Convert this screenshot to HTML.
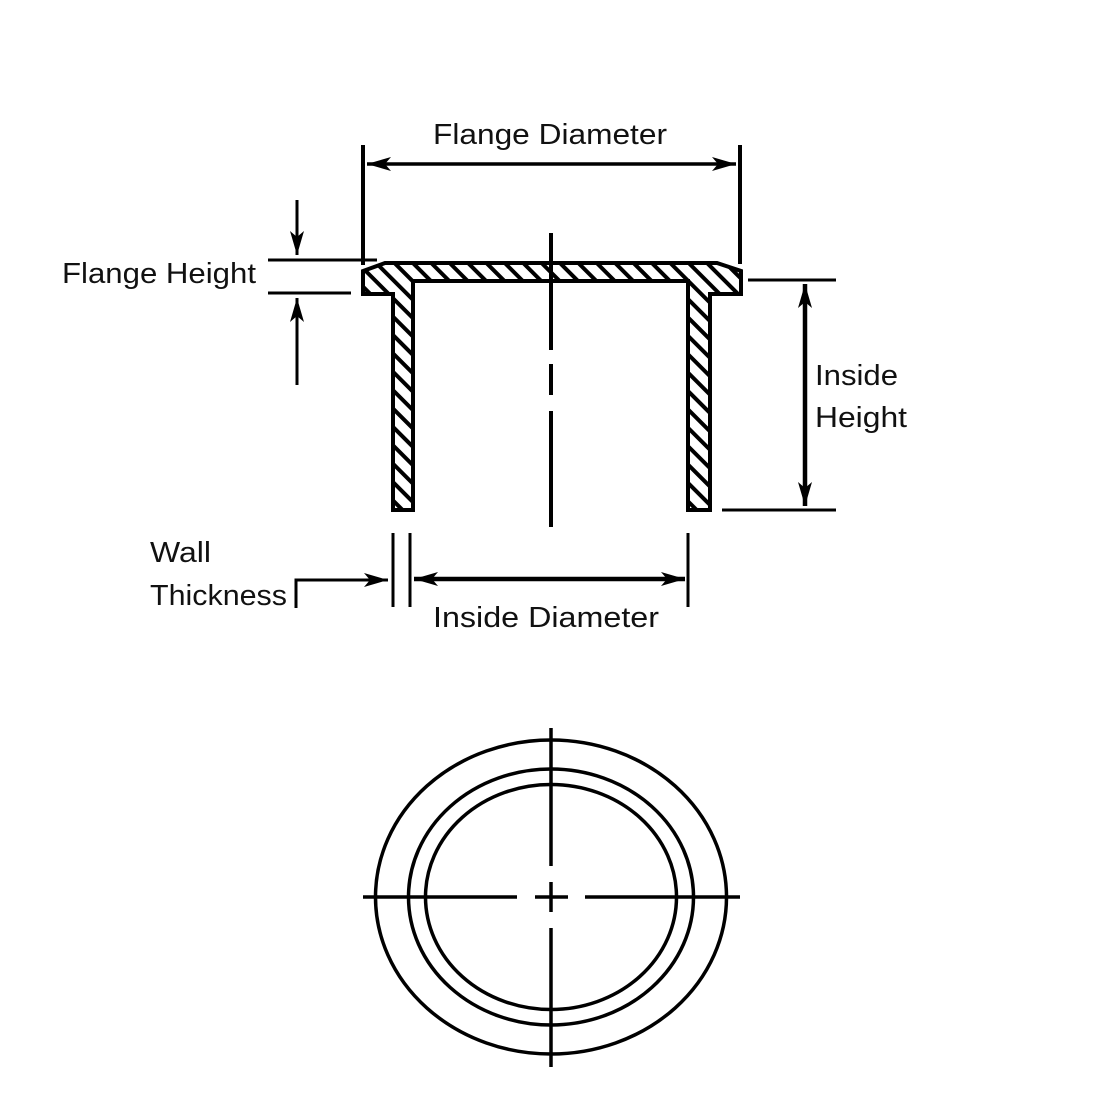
<!DOCTYPE html>
<html><head><style>
html,body{margin:0;padding:0;background:#fff;}
svg{display:block;}
text{font-family:"Liberation Sans",sans-serif;font-size:29px;fill:#111;}
</style></head><body>
<svg width="1100" height="1100" viewBox="0 0 1100 1100" xmlns="http://www.w3.org/2000/svg">
<defs>
<pattern id="h" patternUnits="userSpaceOnUse" width="13" height="13" patternTransform="rotate(-45)">
<rect width="13" height="13" fill="#fff"/>
<rect x="0" y="0" width="4" height="13" fill="#000"/>
</pattern>
<marker id="a" viewBox="0 0 24 14" refX="24" refY="7" markerWidth="24" markerHeight="14" markerUnits="userSpaceOnUse" orient="auto-start-reverse">
<path d="M0,0 L24,7 L0,14 L6,7 Z" fill="#000"/>
</marker>
</defs>
<g stroke="#000" fill="none" stroke-width="4">
<path d="M385,263 L717,263 L741,271 L741,294 L710,294 L710,510 L688,510 L688,281 L413,281 L413,510 L393,510 L393,294 L363,294 L363,271 Z" fill="url(#h)"/>
<path d="M551,233 V350 M551,364 V395 M551,411 V527"/>
<path d="M363,145 V265 M740,145 V264"/>
<path d="M367,164 H736" marker-start="url(#a)" marker-end="url(#a)" stroke-width="3.5"/>
<path d="M268,260 H377 M268,293 H351" stroke-width="3"/>
<path d="M297,200 V255" marker-end="url(#a)" stroke-width="3"/>
<path d="M297,385 V298" marker-end="url(#a)" stroke-width="3"/>
<path d="M748,280 H836 M722,510 H836" stroke-width="3"/>
<path d="M805,284 V506" marker-start="url(#a)" marker-end="url(#a)" stroke-width="4.5"/>
<path d="M393,533 V607 M410,533 V607 M688,533 V607" stroke-width="3"/>
<path d="M414,579 H685" marker-start="url(#a)" marker-end="url(#a)" stroke-width="4.5"/>
<path d="M296,608 V580 H388" marker-end="url(#a)" stroke-width="3"/>
<ellipse cx="551" cy="897" rx="175.5" ry="157" stroke-width="3.5"/>
<ellipse cx="551" cy="897" rx="142.5" ry="128" stroke-width="3.5"/>
<ellipse cx="551" cy="897" rx="125.5" ry="112.5" stroke-width="3.5"/>
<path d="M363,897 H517 M535,897 H568 M585,897 H740 M551,728 V866 M551,882 V912 M551,928 V1067" stroke-width="3.5"/>
</g>
<text x="433" y="144" textLength="234" lengthAdjust="spacingAndGlyphs">Flange Diameter</text>
<text x="62" y="283" textLength="194" lengthAdjust="spacingAndGlyphs">Flange Height</text>
<text x="815" y="385" textLength="83" lengthAdjust="spacingAndGlyphs">Inside</text>
<text x="815" y="427" textLength="92" lengthAdjust="spacingAndGlyphs">Height</text>
<text x="150" y="562" textLength="61" lengthAdjust="spacingAndGlyphs">Wall</text>
<text x="150" y="605" textLength="137" lengthAdjust="spacingAndGlyphs">Thickness</text>
<text x="433" y="627" textLength="226" lengthAdjust="spacingAndGlyphs">Inside Diameter</text>
</svg>
</body></html>
